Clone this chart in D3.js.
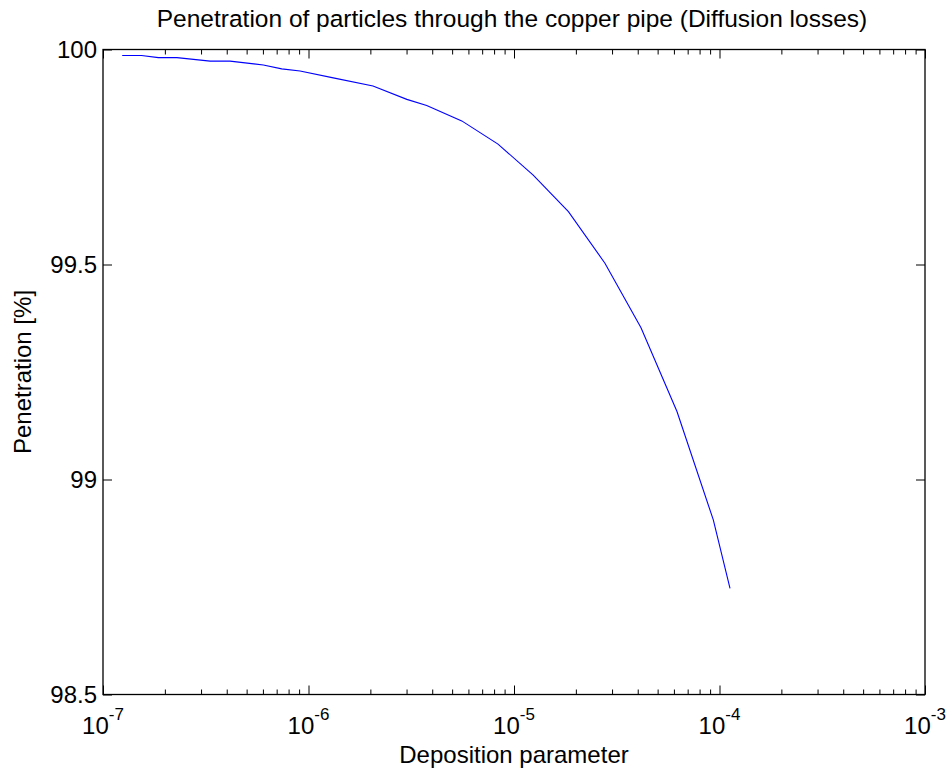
<!DOCTYPE html>
<html>
<head>
<meta charset="utf-8">
<script src="https://cdn.jsdelivr.net/npm/d3@7"></script>
<style>
  body { margin: 0; background: #fff; }
  text { font-family: "Liberation Sans", Arial, Helvetica, sans-serif; fill: #000; }
</style>
</head>
<body>
<div id="chart"></div>
<script>
var W = 948, H = 774;

// deposition parameter (x, log axis)
var deposition = [1.24e-7, 1.54e-7, 1.86e-7, 2.29e-7, 3.32e-7, 4.15e-7, 6.03e-7, 7.41e-7,
  9.1e-7, 1.32e-6, 2.06e-6, 3.01e-6, 3.76e-6, 5.57e-6, 8.36e-6, 1.24e-5, 1.84e-5,
  2.77e-5, 4.15e-5, 6.21e-5, 9.33e-5, 1.125e-4];
// penetration [%]
var penetration = [99.986, 99.986, 99.981, 99.981, 99.973, 99.973, 99.964, 99.955,
  99.950, 99.934, 99.915, 99.884, 99.870, 99.834, 99.780, 99.708, 99.623,
  99.503, 99.353, 99.158, 98.906, 98.747];

var xDecades = [-7, -6, -5, -4, -3];
var yTicks = [98.5, 99, 99.5, 100];

var titleText = "Penetration of particles through the copper pipe (Diffusion losses)";
var xLabel = "Deposition parameter";
var yLabel = "Penetration [%]";

var m = {left: 103, right: 948 - 925, top: 49.5, bottom: 774 - 694.5};
var pw = W - m.left - m.right, ph = H - m.top - m.bottom;

var svg = d3.select("#chart").append("svg")
  .attr("width", W)
  .attr("height", H);

var x = d3.scaleLog().domain([1e-7, 1e-3]).range([0, pw]);
var y = d3.scaleLinear().domain([98.5, 100]).range([ph, 0]);

var g = svg.append("g").attr("transform", "translate(" + m.left + "," + m.top + ")");

// minor + major ticks for the log axis
var minors = [];
xDecades.slice(0, -1).forEach(function(e) {
  for (var k = 2; k <= 9; k++) minors.push(k * Math.pow(10, e));
});
var majors = xDecades.map(function(e) { return Math.pow(10, e); });

function tickAxis(axis, vals, size) {
  return axis.tickValues(vals).tickSize(size).tickFormat("");
}

// bottom / top ticks pointing inward
g.append("g").attr("transform", "translate(0," + ph + ")")
  .call(tickAxis(d3.axisTop(x), minors, 5));
g.append("g").attr("transform", "translate(0," + ph + ")")
  .call(tickAxis(d3.axisTop(x), majors, 9));
g.append("g").call(tickAxis(d3.axisBottom(x), minors, 5));
g.append("g").call(tickAxis(d3.axisBottom(x), majors, 9));
// left / right
g.append("g").call(tickAxis(d3.axisRight(y), yTicks, 9));
g.append("g").attr("transform", "translate(" + pw + ",0)")
  .call(tickAxis(d3.axisLeft(y), yTicks, 9));

g.selectAll(".domain").remove();
g.selectAll(".tick line").attr("stroke", "#000").attr("stroke-width", 1);

// box
g.append("rect")
  .attr("width", pw).attr("height", ph)
  .attr("fill", "none").attr("stroke", "#000").attr("stroke-width", 1.3);

// data line
var line = d3.line()
  .x(function(d, i) { return x(deposition[i]); })
  .y(function(d) { return y(d); });

g.append("path")
  .datum(penetration)
  .attr("fill", "none")
  .attr("stroke", "#0000ff")
  .attr("stroke-width", 1.1)
  .attr("d", line);

// y tick labels
g.selectAll(".ylab").data(yTicks).enter().append("text")
  .attr("x", -6)
  .attr("y", function(d) { return y(d); })
  .attr("dy", "0.35em")
  .attr("text-anchor", "end")
  .style("font-size", "24px")
  .text(function(d) { return d; });

// x tick labels 10^n
var xl = g.selectAll(".xlab").data(xDecades).enter().append("text")
  .attr("x", function(e) { return x(Math.pow(10, e)); })
  .attr("y", ph + 39.5)
  .attr("text-anchor", "middle")
  .style("font-size", "24px");
xl.append("tspan").text("10");
xl.append("tspan")
  .attr("dy", -14)
  .style("font-size", "17px")
  .text(function(e) { return e; });

// title and axis labels
svg.append("text")
  .attr("x", m.left + pw / 2 - 2).attr("y", 27)
  .attr("text-anchor", "middle")
  .style("font-size", "24.5px")
  .text(titleText);

svg.append("text")
  .attr("x", m.left + pw / 2).attr("y", 763)
  .attr("text-anchor", "middle")
  .style("font-size", "24px")
  .text(xLabel);

svg.append("text")
  .attr("transform", "translate(31," + (m.top + ph / 2) + ") rotate(-90)")
  .attr("text-anchor", "middle")
  .style("font-size", "24px")
  .text(yLabel);
</script>
</body>
</html>
